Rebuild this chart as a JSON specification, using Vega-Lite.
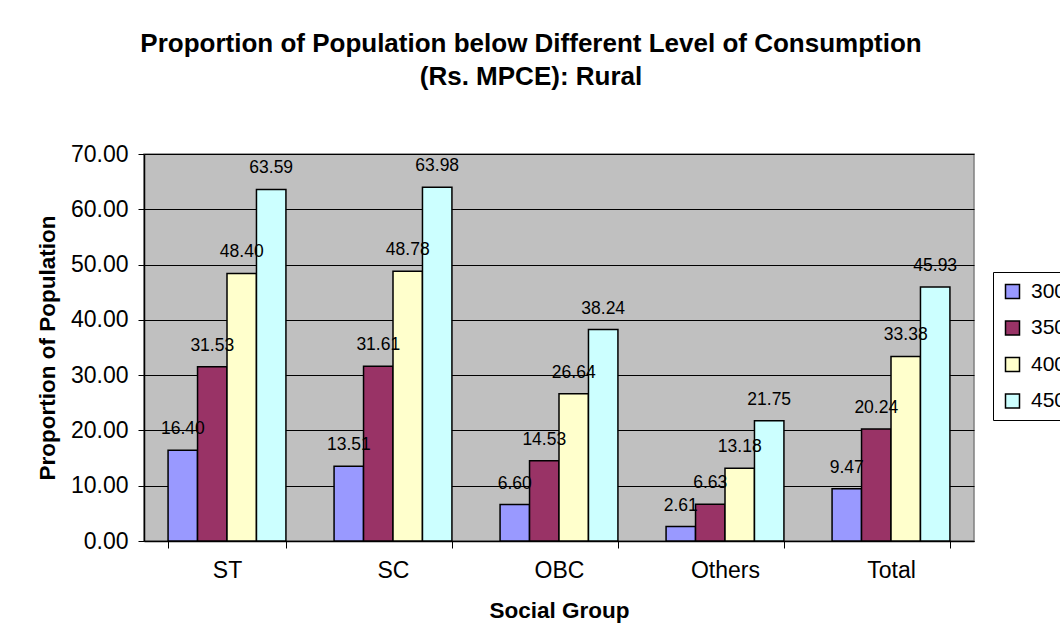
{
  "$schema": "https://vega.github.io/schema/vega-lite/v6.json",
  "width": 830,
  "height": 387,
  "autosize": {"type": "none"},
  "padding": {"left": 144, "top": 154, "right": 86, "bottom": 100},
  "background": "white",
  "config": {
    "font": "Liberation Sans",
    "view": {"fill": "#C0C0C0", "stroke": "#808080", "strokeWidth": 1.5}
  },
  "title": {
    "text": ["Proportion of Population below Different Level of Consumption", "(Rs. MPCE): Rural"],
    "font": "Liberation Sans",
    "fontSize": 26,
    "fontWeight": "bold",
    "lineHeight": 33,
    "color": "black",
    "anchor": "middle",
    "dx": -28,
    "offset": 53
  },
  "data": {
    "values": [
      {"group": "ST", "level": "300", "value": 16.40},
      {"group": "ST", "level": "350", "value": 31.53},
      {"group": "ST", "level": "400", "value": 48.40},
      {"group": "ST", "level": "450", "value": 63.59},
      {"group": "SC", "level": "300", "value": 13.51},
      {"group": "SC", "level": "350", "value": 31.61},
      {"group": "SC", "level": "400", "value": 48.78},
      {"group": "SC", "level": "450", "value": 63.98},
      {"group": "OBC", "level": "300", "value": 6.60},
      {"group": "OBC", "level": "350", "value": 14.53},
      {"group": "OBC", "level": "400", "value": 26.64},
      {"group": "OBC", "level": "450", "value": 38.24},
      {"group": "Others", "level": "300", "value": 2.61},
      {"group": "Others", "level": "350", "value": 6.63},
      {"group": "Others", "level": "400", "value": 13.18},
      {"group": "Others", "level": "450", "value": 21.75},
      {"group": "Total", "level": "300", "value": 9.47},
      {"group": "Total", "level": "350", "value": 20.24},
      {"group": "Total", "level": "400", "value": 33.38},
      {"group": "Total", "level": "450", "value": 45.93}
    ]
  },
  "encoding": {
    "x": {
      "field": "group",
      "type": "nominal",
      "sort": ["ST", "SC", "OBC", "Others", "Total"],
      "scale": {"paddingInner": 0.29, "paddingOuter": 0.145},
      "axis": {
        "title": "Social Group",
        "titleFontSize": 22.5,
        "titleFontWeight": "bold",
        "titleColor": "black",
        "titlePadding": 17,
        "labelAngle": 0,
        "labelFontSize": 23,
        "labelColor": "black",
        "labelPadding": 11,
        "tickBand": "extent",
        "tickSize": 7,
        "tickColor": "black",
        "domainColor": "black",
        "domainWidth": 1.5,
        "grid": false
      }
    },
    "xOffset": {"field": "level", "type": "nominal", "sort": ["300", "350", "400", "450"]},
    "y": {
      "field": "value",
      "type": "quantitative",
      "scale": {"domain": [0, 70]},
      "axis": {
        "title": "Proportion of Population",
        "titleFontSize": 22.5,
        "titleFontWeight": "bold",
        "titleColor": "black",
        "titlePadding": 11,
        "format": ".2f",
        "values": [0, 10, 20, 30, 40, 50, 60, 70],
        "labelFontSize": 23,
        "labelColor": "black",
        "labelPadding": 10,
        "tickSize": 6,
        "tickColor": "black",
        "domainColor": "black",
        "domainWidth": 1.5,
        "gridColor": "black",
        "gridWidth": 1
      }
    }
  },
  "layer": [
    {
      "mark": {"type": "bar", "stroke": "black", "strokeWidth": 1.5},
      "encoding": {
        "color": {
          "field": "level",
          "type": "nominal",
          "sort": ["300", "350", "400", "450"],
          "scale": {"domain": ["300", "350", "400", "450"], "range": ["#9999FF", "#993366", "#FFFFCC", "#CCFFFF"]},
          "legend": {
            "title": null,
            "orient": "none",
            "legendX": 849,
            "legendY": 118,
            "symbolType": "square",
            "symbolSize": 196,
            "symbolStrokeColor": "black",
            "symbolStrokeWidth": 1.5,
            "labelFontSize": 21,
            "labelColor": "black",
            "labelOffset": 8,
            "rowPadding": 14.5,
            "padding": 9,
            "strokeColor": "black",
            "fillColor": "white",
            "labelLimit": 200
          }
        }
      }
    },
    {
      "mark": {"type": "text", "fontSize": 17.5, "color": "black", "baseline": "alphabetic", "dy": -16},
      "encoding": {
        "text": {"field": "value", "type": "quantitative", "format": ".2f"}
      }
    }
  ]
}
